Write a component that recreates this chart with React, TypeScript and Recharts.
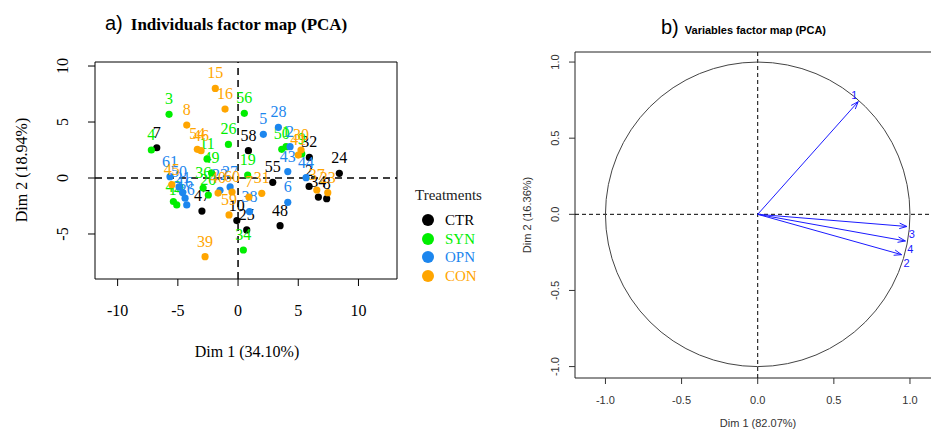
import React from 'react';
import { ScatterChart, Scatter, XAxis, YAxis, ReferenceLine, ReferenceArea, ReferenceDot } from 'recharts';

// ---------- Data ----------
const treatments = ['CTR', 'SYN', 'OPN', 'CON'];
const treatmentColors = ['#000000', '#00ee00', '#1c86ee', '#ffa500'];

const ctrPoints = [
  { id: '7', x: -6.75, y: 2.7 },
  { id: '58', x: 0.86, y: 2.44 },
  { id: '55', x: 2.88, y: -0.39 },
  { id: '32', x: 5.92, y: 1.84 },
  { id: '2', x: 5.9, y: -0.75 },
  { id: '24', x: 8.41, y: 0.42 },
  { id: '34', x: 6.67, y: -1.7 },
  { id: '8', x: 7.36, y: -1.85 },
  { id: '48', x: 3.49, y: -4.26 },
  { id: '47', x: -3.0, y: -2.95 },
  { id: '10', x: -0.1, y: -3.8 },
  { id: '25', x: 0.72, y: -4.64 },
];

const synPoints = [
  { id: '3', x: -5.73, y: 5.69 },
  { id: '4', x: -7.2, y: 2.5 },
  { id: '56', x: 0.52, y: 5.78 },
  { id: '26', x: -0.8, y: 3.0 },
  { id: '11', x: -2.57, y: 1.7 },
  { id: '49', x: -2.2, y: 0.45 },
  { id: '19', x: 0.8, y: 0.27 },
  { id: '50', x: 3.63, y: 2.56 },
  { id: '1', x: 3.99, y: 2.8 },
  { id: '9', x: 5.29, y: 2.15 },
  { id: '34', x: 0.44, y: -6.43 },
  { id: '36', x: -2.9, y: -0.9 },
  { id: '20', x: -2.47, y: -1.52 },
  { id: '42', x: -5.37, y: -2.1 },
  { id: '14', x: -5.09, y: -2.4 },
];

const opnPoints = [
  { id: '61', x: -5.65, y: 0.12 },
  { id: '50', x: -4.9, y: -0.8 },
  { id: '21', x: -4.6, y: -1.3 },
  { id: '16', x: -4.4, y: -1.8 },
  { id: '36', x: -4.26, y: -2.4 },
  { id: '22', x: -1.5, y: -1.1 },
  { id: '27', x: -0.66, y: -0.8 },
  { id: '38', x: 0.95, y: -3.0 },
  { id: '5', x: 2.1, y: 3.9 },
  { id: '28', x: 3.35, y: 4.53 },
  { id: '2', x: 4.32, y: 2.8 },
  { id: '43', x: 4.13, y: 0.57 },
  { id: '44', x: 5.65, y: 0.03 },
  { id: '6', x: 4.13, y: -2.17 },
];

const conPoints = [
  { id: '15', x: -1.89, y: 8.0 },
  { id: '16', x: -1.08, y: 6.16 },
  { id: '8', x: -4.26, y: 4.73 },
  { id: '54', x: -3.38, y: 2.56 },
  { id: '46', x: -3.07, y: 2.44 },
  { id: '45', x: -5.5, y: -0.6 },
  { id: '40', x: -1.66, y: -1.35 },
  { id: '60', x: -0.5, y: -1.25 },
  { id: '59', x: -0.75, y: -3.3 },
  { id: '7', x: 0.9, y: -1.7 },
  { id: '31', x: 1.97, y: -1.37 },
  { id: '30', x: 5.23, y: 2.5 },
  { id: '41', x: 5.0, y: 2.05 },
  { id: '37', x: 6.54, y: -1.07 },
  { id: '23', x: 7.45, y: -1.31 },
  { id: '39', x: -2.74, y: -7.03 },
];

const seriesPoints = [ctrPoints, synPoints, opnPoints, conPoints];

const leftXTicks = [-10, -5, 0, 5, 10];
const leftYTicks = [-5, 0, 5, 10];

const varNames = ['1', '2', '3', '4'];
const varDim1 = [0.66, 0.945, 0.98, 0.97];
const varDim2 = [0.74, -0.265, -0.08, -0.175];

const rightTicks = [-1, -0.5, 0, 0.5, 1];

// ---------- Layout ----------
const SERIF = '"Liberation Serif", "Times New Roman", serif';
const SANS = '"Liberation Sans", Arial, sans-serif';

const L_X_DOMAIN = [-11.88, 13.2];
const L_Y_DOMAIN = [-9.02, 10.36];

const R_X_DOMAIN = [-1.2, 1.23];
const R_PLOT_W = 370;
const R_K = R_PLOT_W / (R_X_DOMAIN[1] - R_X_DOMAIN[0]);
const R_Y_DOMAIN = [-1.075, -1.075 + 326 / R_K];

const makePointShape = (color: string) => (props: any) => {
  const { cx, cy, payload } = props;
  return (
    <g>
      <circle cx={cx} cy={cy} r={3.6} fill={color} />
      <text x={cx} y={cy - 10} textAnchor="middle" fontFamily={SERIF} fontSize={16} fill={color}>
        {payload.id}
      </text>
    </g>
  );
};

const LeftXTick = (props: any) => {
  const { x, y, payload } = props;
  return (
    <text x={x} y={y + 30} textAnchor="middle" fontFamily={SERIF} fontSize={16} fill="#000">
      {payload.value}
    </text>
  );
};

const LeftYTick = (props: any) => {
  const { x, y, payload } = props;
  const bx = x - 20;
  return (
    <text x={bx} y={y} transform={`rotate(-90, ${bx}, ${y})`} textAnchor="middle" fontFamily={SERIF} fontSize={16} fill="#000">
      {payload.value}
    </text>
  );
};

const RightXTick = (props: any) => {
  const { x, y, payload } = props;
  return (
    <text x={x} y={y + 20} textAnchor="middle" fontFamily={SANS} fontSize={11} fill="#333">
      {Number(payload.value).toFixed(1)}
    </text>
  );
};

const RightYTick = (props: any) => {
  const { x, y, payload } = props;
  const bx = x - 10;
  return (
    <text x={bx} y={y} transform={`rotate(-90, ${bx}, ${y})`} textAnchor="middle" fontFamily={SANS} fontSize={11} fill="#333">
      {Number(payload.value).toFixed(1)}
    </text>
  );
};

const arrowShape = (props: any) => {
  const { cx, cy, payload } = props;
  if (!payload || !payload.id) return <g />;
  const ang = Math.atan2(-payload.y, payload.x);
  const L = 8;
  const s = 0.35;
  const p1x = cx - L * Math.cos(ang - s);
  const p1y = cy - L * Math.sin(ang - s);
  const p2x = cx - L * Math.cos(ang + s);
  const p2y = cy - L * Math.sin(ang + s);
  const up = payload.y > 0;
  return (
    <g>
      <path d={`M${p1x},${p1y} L${cx},${cy} L${p2x},${p2y}`} stroke="#1a1aff" strokeWidth={1} fill="none" />
      <text
        x={up ? cx - 4 : cx + 5}
        y={up ? cy - 3 : cy + 12}
        textAnchor="middle"
        fontFamily={SANS}
        fontSize={11}
        fill="#1a1aff"
      >
        {payload.id}
      </text>
    </g>
  );
};

const arrowData = varNames.map((n, i) => [
  { x: 0, y: 0 },
  { x: varDim1[i], y: varDim2[i], id: n },
]);

export default function App() {
  return (
    <div style={{ position: 'absolute', left: 0, top: 0, width: 931, height: 432, overflow: 'hidden', background: '#fff' }}>
      {/* Left panel */}
      <div style={{ position: 'absolute', left: 0, top: 0 }}>
        <ScatterChart width={500} height={432} margin={{ top: 62, right: 103, bottom: 123, left: 35 }}>
          <XAxis
            type="number"
            dataKey="x"
            domain={L_X_DOMAIN}
            ticks={leftXTicks}
            allowDataOverflow
            height={30}
            axisLine={false}
            tickLine={{ stroke: '#000' }}
            tickSize={7}
            tickMargin={0}
            tick={<LeftXTick />}
          />
          <YAxis
            type="number"
            dataKey="y"
            domain={L_Y_DOMAIN}
            ticks={leftYTicks}
            allowDataOverflow
            width={60}
            axisLine={false}
            tickLine={{ stroke: '#000' }}
            tickSize={7}
            tickMargin={0}
            tick={<LeftYTick />}
          />
          <ReferenceArea
            x1={L_X_DOMAIN[0]}
            x2={L_X_DOMAIN[1]}
            y1={L_Y_DOMAIN[0]}
            y2={L_Y_DOMAIN[1]}
            fill="none"
            fillOpacity={0}
            stroke="#000"
            strokeWidth={1}
            ifOverflow="visible"
          />
          <ReferenceLine x={0} stroke="#000" strokeWidth={1.5} strokeDasharray="7 5" />
          <ReferenceLine y={0} stroke="#000" strokeWidth={1.5} strokeDasharray="7 5" />
          {treatments.map((t, i) => (
            <Scatter
              key={t}
              name={t}
              data={seriesPoints[i]}
              fill={treatmentColors[i]}
              shape={makePointShape(treatmentColors[i])}
              isAnimationActive={false}
            />
          ))}
        </ScatterChart>
      </div>

      {/* Left titles */}
      <div style={{ position: 'absolute', left: 105, top: 8, whiteSpace: 'nowrap', lineHeight: '30px' }}>
        <span style={{ fontFamily: SANS, fontSize: 20, color: '#000' }}>a)</span>
        <span style={{ fontFamily: SERIF, fontSize: 17, fontWeight: 'bold', marginLeft: 8, color: '#000' }}>
          Individuals factor map (PCA)
        </span>
      </div>
      <div
        style={{
          position: 'absolute',
          left: 247,
          top: 352,
          transform: 'translate(-50%, -50%)',
          fontFamily: SERIF,
          fontSize: 16,
          whiteSpace: 'nowrap',
        }}
      >
        Dim 1 (34.10%)
      </div>
      <div
        style={{
          position: 'absolute',
          left: 22,
          top: 170,
          transform: 'translate(-50%, -50%) rotate(-90deg)',
          fontFamily: SERIF,
          fontSize: 16,
          whiteSpace: 'nowrap',
        }}
      >
        Dim 2 (18.94%)
      </div>

      {/* Legend */}
      <div style={{ position: 'absolute', left: 415, top: 187, fontFamily: SERIF, fontSize: 15, whiteSpace: 'nowrap', color: '#222' }}>
        Treatments
      </div>
      {treatments.map((t, i) => (
        <div
          key={t}
          style={{
            position: 'absolute',
            left: 422,
            top: [220, 239, 257, 276][i] - 10,
            height: 20,
            display: 'flex',
            alignItems: 'center',
            fontFamily: SERIF,
            fontSize: 15,
            color: treatmentColors[i],
            whiteSpace: 'nowrap',
          }}
        >
          <span style={{ display: 'inline-block', width: 12, height: 12, borderRadius: 6, background: treatmentColors[i], marginRight: 11 }} />
          {t}
        </div>
      ))}

      {/* Right panel */}
      <div style={{ position: 'absolute', left: 500, top: 0 }}>
        <ScatterChart width={445} height={432} margin={{ top: 52, right: 0, bottom: 24, left: 15 }}>
          <XAxis
            type="number"
            dataKey="x"
            domain={R_X_DOMAIN}
            ticks={rightTicks}
            allowDataOverflow
            height={30}
            axisLine={false}
            tickLine={{ stroke: '#333' }}
            tickSize={6}
            tickMargin={0}
            tick={<RightXTick />}
          />
          <YAxis
            type="number"
            dataKey="y"
            domain={R_Y_DOMAIN}
            ticks={rightTicks}
            allowDataOverflow
            width={60}
            axisLine={false}
            tickLine={{ stroke: '#333' }}
            tickSize={6}
            tickMargin={0}
            tick={<RightYTick />}
          />
          <ReferenceArea
            x1={R_X_DOMAIN[0]}
            x2={R_X_DOMAIN[1]}
            y1={R_Y_DOMAIN[0]}
            y2={R_Y_DOMAIN[1]}
            fill="none"
            fillOpacity={0}
            stroke="#222"
            strokeWidth={1}
            ifOverflow="visible"
          />
          <ReferenceDot x={0} y={0} r={R_K} fill="none" fillOpacity={0} stroke="#444" strokeWidth={1} ifOverflow="visible" />
          <ReferenceLine x={0} stroke="#000" strokeWidth={1} strokeDasharray="4 3" />
          <ReferenceLine y={0} stroke="#000" strokeWidth={1} strokeDasharray="4 3" />
          {arrowData.map((d, i) => (
            <Scatter
              key={varNames[i]}
              data={d}
              line={{ stroke: '#1a1aff', strokeWidth: 1 }}
              lineType="joint"
              shape={arrowShape}
              isAnimationActive={false}
            />
          ))}
        </ScatterChart>
      </div>

      {/* Right titles */}
      <div style={{ position: 'absolute', left: 661, top: 12, whiteSpace: 'nowrap', lineHeight: '30px' }}>
        <span style={{ fontFamily: SANS, fontSize: 20, color: '#000' }}>b)</span>
        <span style={{ fontFamily: SANS, fontSize: 11, fontWeight: 'bold', marginLeft: 6, color: '#000' }}>
          Variables factor map (PCA)
        </span>
      </div>
      <div
        style={{
          position: 'absolute',
          left: 758,
          top: 423,
          transform: 'translate(-50%, -50%)',
          fontFamily: SANS,
          fontSize: 11,
          color: '#333',
          whiteSpace: 'nowrap',
        }}
      >
        Dim 1 (82.07%)
      </div>
      <div
        style={{
          position: 'absolute',
          left: 527,
          top: 215,
          transform: 'translate(-50%, -50%) rotate(-90deg)',
          fontFamily: SANS,
          fontSize: 11,
          color: '#333',
          whiteSpace: 'nowrap',
        }}
      >
        Dim 2 (16.36%)
      </div>
    </div>
  );
}
